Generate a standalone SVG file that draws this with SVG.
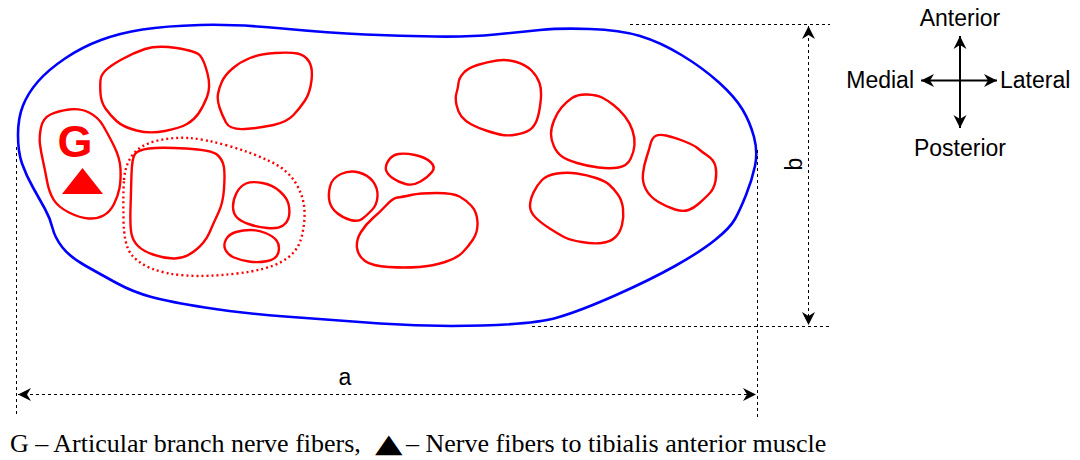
<svg xmlns="http://www.w3.org/2000/svg" width="1080" height="460" viewBox="0 0 1080 460">
  <defs>
    <style>
      .outline { fill: none; stroke: #0000ff; stroke-width: 2.6; stroke-linejoin: round; }
      .fasc { fill: none; stroke: #ff0000; stroke-width: 2.4; stroke-linejoin: round; }
      .group { fill: none; stroke: #ff0000; stroke-width: 2.4; stroke-dasharray: 2 3; }
      .dim { fill: none; stroke: #000; stroke-width: 1; stroke-dasharray: 3 3; }
      .axis { fill: none; stroke: #000; stroke-width: 2; }
      .lbl { font-family: "Liberation Sans", Arial, sans-serif; font-size: 23px; fill: #000; }
      .cap { font-family: "Liberation Serif", "Times New Roman", serif; font-size: 26px; fill: #000; }
    </style>
    <marker id="arr" viewBox="-14 -7 15 14" refX="0" refY="0" markerWidth="15" markerHeight="14" markerUnits="userSpaceOnUse" orient="auto-start-reverse">
      <path d="M0,0 L-13,-6.5 L-9,0 L-13,6.5 Z" fill="#000"/>
    </marker>
  </defs>

  <rect width="1080" height="460" fill="#fff"/>

  <!-- nerve cross-section outline -->
  <g id="epineurium">
    <path class="outline" d="M18,135 Q18,118 23,105.5 Q28,93 38,81.5 Q48,70 65,58.5 Q82,47 101,40 Q120,33 142.5,29.5 Q165,26 200,25 Q235,24 282.5,28.5 Q330,33 365,34.5 Q400,36 435,36.5 Q470,37 495,34.5 Q520,32 540,30 Q560,28 590,29 Q620,30 640,36 Q660,42 681.5,55 Q703,68 719,82.5 Q735,97 742.5,109.5 Q750,122 754,137 Q758,152 755,166 Q752,180 746,195 Q740,210 735,219 Q730,228 715,240 Q700,252 675,266 Q650,280 615,295.5 Q580,311 557.5,317.5 Q535,324 482.5,325.5 Q430,327 380,323.5 Q330,320 285,316.5 Q240,313 205,307.5 Q170,302 151.5,297 Q133,292 116.5,283 Q100,274 85,265.5 Q70,257 62.5,247.5 Q55,238 52.5,228 Q50,218 45,209 Q40,200 33,187.5 Q26,175 22,163.5 Q18,152 18,135 Z"/>
  </g>

  <!-- fascicle G with its marker -->
  <g id="fascicle-g">
    <path class="fasc" d="M41,127.5 Q43,118 50.5,114.5 Q58,111 69,109.5 Q80,108 89,112.5 Q98,117 103,125.5 Q108,134 114,146 Q120,158 120.5,169 Q121,180 119.5,188 Q118,196 114,204 Q110,212 103.5,215.5 Q97,219 88.5,218.5 Q80,218 69,212.5 Q58,207 53.5,199.5 Q49,192 47,181 Q45,170 43,161 Q41,152 40,144.5 Q39,137 41,127.5 Z"/>
    <text x="75" y="157" text-anchor="middle" font-family="'Liberation Sans', Arial, sans-serif" font-weight="bold" font-size="45" fill="#ff0000">G</text>
    <polygon points="62,194 103,194 82.5,168" fill="#ff0000"/>
  </g>

  <g id="fascicle-1"><path class="fasc" d="M100.5,93.5 Q101,102 105.5,108.5 Q110,115 116.5,121 Q123,127 136.5,130.5 Q150,134 165,131 Q180,128 187,124 Q194,120 198.5,113.5 Q203,107 207,97 Q211,87 207.5,73.5 Q204,60 200,55.5 Q196,51 176.5,48 Q157,45 145,49 Q133,53 121.5,59.5 Q110,66 105.5,70.5 Q101,75 100.5,80 Q100,85 100.5,93.5 Z"/></g>
  <g id="fascicle-2"><path class="fasc" d="M219.5,107.5 Q222,115 226,122.5 Q230,130 245,129 Q260,128 273.5,125 Q287,122 293.5,115 Q300,108 305,100.5 Q310,93 311.5,80.5 Q313,68 309,61.5 Q305,55 297.5,53.5 Q290,52 275,53 Q260,54 250,58 Q240,62 232.5,68.5 Q225,75 222,81.5 Q219,88 218,94 Q217,100 219.5,107.5 Z"/></g>

  <!-- grouped fascicles inside the dotted boundary -->
  <g id="fascicle-group">
    <path class="group" d="M124,180 Q125,165 132.5,155 Q140,145 156,141 Q172,137 188.5,138 Q205,139 229,146 Q253,153 270.5,161.5 Q288,170 296,183.5 Q304,197 304.5,211 Q305,225 301,239 Q297,253 282,261.5 Q267,270 237,273.5 Q207,277 186,275.5 Q165,274 151.5,268.5 Q138,263 131,254 Q124,245 123.5,220 Q123,195 124,180 Z"/>
    <path class="fasc" d="M131.5,174 Q132,158 135,154 Q138,150 149,148.5 Q160,147 186,148.5 Q212,150 217.5,155 Q223,160 224,167.5 Q225,175 224,189 Q223,203 218.5,212.5 Q214,222 209.5,232.5 Q205,243 194.5,251 Q184,259 173.5,258.5 Q163,258 153,254.5 Q143,251 138,246 Q133,241 131.5,234 Q130,227 130.5,208.5 Q131,190 131.5,174 Z"/>
    <path class="fasc" d="M236.5,193 Q240,186 246,183.5 Q252,181 262.5,183 Q273,185 280,191.5 Q287,198 288.5,204 Q290,210 289,216 Q288,222 283,225.5 Q278,229 267.5,228 Q257,227 248.5,224 Q240,221 236.5,217 Q233,213 233,206.5 Q233,200 236.5,193 Z"/>
    <path class="fasc" d="M226,239.5 Q229,234 236,232 Q243,230 250.5,230 Q258,230 265.5,233 Q273,236 276.5,240.5 Q280,245 278.5,252 Q277,259 267.5,261 Q258,263 249,261.5 Q240,260 234,257.5 Q228,255 225.5,250 Q223,245 226,239.5 Z"/>
  </g>

  <g id="fascicle-3"><path class="fasc" d="M330,186.5 Q332,178 341,174 Q350,170 359,172.5 Q368,175 373,181.5 Q378,188 377.5,196.5 Q377,205 371.5,210.5 Q366,216 362,219 Q358,222 350.5,220 Q343,218 337,213 Q331,208 329.5,201.5 Q328,195 330,186.5 Z"/></g>
  <g id="fascicle-4"><path class="fasc" d="M388.5,160.5 Q392,155 398.5,154 Q405,153 415,155 Q425,157 430.5,162 Q436,167 432,172 Q428,177 420.5,181.5 Q413,186 405.5,184 Q398,182 392.5,178 Q387,174 386,170 Q385,166 388.5,160.5 Z"/></g>
  <g id="fascicle-5"><path class="fasc" d="M357,248 Q358,256 365,261 Q372,266 388.5,267 Q405,268 419,267 Q433,266 445,262 Q457,258 462.5,252.5 Q468,247 473,239.5 Q478,232 477.5,222 Q477,212 471.5,206 Q466,200 459.5,196.5 Q453,193 436.5,193 Q420,193 411,195 Q402,197 397.5,197.5 Q393,198 386.5,205 Q380,212 373,218 Q366,224 361,232 Q356,240 357,248 Z"/></g>
  <g id="fascicle-6"><path class="fasc" d="M456.5,105 Q458,112 461.5,116.5 Q465,121 471.5,124.5 Q478,128 487.5,131 Q497,134 502.5,135 Q508,136 516.5,134.5 Q525,133 529.5,130 Q534,127 536.5,121 Q539,115 540.5,102.5 Q542,90 539.5,83 Q537,76 531.5,70.5 Q526,65 516.5,62 Q507,59 497,60.5 Q487,62 477.5,65 Q468,68 463.5,73 Q459,78 458.5,83 Q458,88 456.5,93 Q455,98 456.5,105 Z"/></g>
  <g id="fascicle-7"><path class="fasc" d="M551,134 Q551,140 554,146.5 Q557,153 562,156.5 Q567,160 577,163 Q587,166 598.5,167.5 Q610,169 618.5,167.5 Q627,166 630.5,159 Q634,152 634.5,145 Q635,138 632.5,130.5 Q630,123 625,116.5 Q620,110 613.5,105 Q607,100 602,97.5 Q597,95 587.5,94.5 Q578,94 572,98 Q566,102 561.5,107.5 Q557,113 554,120.5 Q551,128 551,134 Z"/></g>
  <g id="fascicle-8"><path class="fasc" d="M530,206 Q530,212 535.5,217.5 Q541,223 550.5,229 Q560,235 565,237.5 Q570,240 581.5,242 Q593,244 601.5,243 Q610,242 615,237.5 Q620,233 622,225 Q624,217 623,208.5 Q622,200 617.5,194 Q613,188 609,184.5 Q605,181 596,178 Q587,175 577,173.5 Q567,172 557,173.5 Q547,175 542,180 Q537,185 533.5,192.5 Q530,200 530,206 Z"/></g>
  <g id="fascicle-9"><path class="fasc" d="M643,173.5 Q642,182 646,189.5 Q650,197 658.5,202 Q667,207 675,209.5 Q683,212 688.5,210 Q694,208 699,203.5 Q704,199 709,194 Q714,189 715.5,181 Q717,173 715.5,166.5 Q714,160 708,156 Q702,152 698,148.5 Q694,145 683.5,141 Q673,137 666,135.5 Q659,134 655.5,136 Q652,138 650.5,144 Q649,150 646.5,157.5 Q644,165 643,173.5 Z"/></g>

  <!-- dimension lines -->
  <g id="dimensions">
    <line class="dim" x1="16.5" y1="147" x2="16.5" y2="415"/>
    <line class="dim" x1="757.5" y1="150" x2="757.5" y2="418"/>
    <line class="dim" x1="630" y1="24.5" x2="830" y2="24.5"/>
    <line class="dim" x1="532" y1="326.5" x2="830" y2="326.5"/>
    <line class="dim" x1="18" y1="394.5" x2="756" y2="394.5" marker-start="url(#arr)" marker-end="url(#arr)"/>
    <line class="dim" x1="808.5" y1="26" x2="808.5" y2="325" marker-start="url(#arr)" marker-end="url(#arr)"/>
    <text class="lbl" x="345" y="385" text-anchor="middle">a</text>
    <text class="lbl" transform="translate(802,164) rotate(-90)" text-anchor="middle">b</text>
  </g>

  <!-- orientation cross -->
  <g id="orientation">
    <line class="axis" x1="960" y1="36" x2="960" y2="128" marker-start="url(#arr)" marker-end="url(#arr)"/>
    <line class="axis" x1="921" y1="80.5" x2="997" y2="80.5" marker-start="url(#arr)" marker-end="url(#arr)"/>
    <text class="lbl" x="960" y="26" text-anchor="middle">Anterior</text>
    <text class="lbl" x="914" y="88" text-anchor="end">Medial</text>
    <text class="lbl" x="1000" y="88">Lateral</text>
    <text class="lbl" x="960" y="156" text-anchor="middle">Posterior</text>
  </g>

  <!-- legend -->
  <g id="legend">
    <text class="cap" x="10" y="452">G – Articular branch nerve fibers,</text>
    <text transform="translate(375,452) scale(1.28,0.92)" font-family="'DejaVu Sans', sans-serif" font-size="28" fill="#000">▲</text>
    <text class="cap" x="406" y="452">– Nerve fibers to tibialis anterior muscle</text>
  </g>
</svg>
